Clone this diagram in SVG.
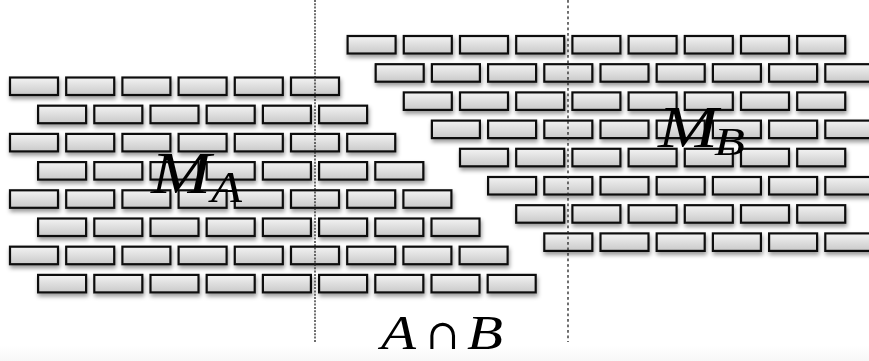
<svg xmlns="http://www.w3.org/2000/svg" xmlns:xlink="http://www.w3.org/1999/xlink" width="869" height="361" viewBox="0 0 869 361">
<style>
.brick{fill:url(#bg);stroke:#111;stroke-width:2.2}
.math{font-family:"Liberation Serif","DejaVu Serif",serif;font-style:italic;fill:#000}
.op{font-family:"DejaVu Serif","Liberation Serif",serif;fill:#000}
.cut{stroke:#222;stroke-width:1.3;fill:none}
</style>
<defs>
<linearGradient id="bg" x1="0" y1="0" x2="0" y2="1">
<stop offset="0" stop-color="#f3f3f3"/>
<stop offset="1" stop-color="#c9c9c9"/>
</linearGradient>
<linearGradient id="fl" x1="0" y1="0" x2="0" y2="1">
<stop offset="0" stop-color="#ffffff"/>
<stop offset="1" stop-color="#f7f7f7"/>
</linearGradient>
<filter id="sh" x="-5%" y="-10%" width="110%" height="125%">
<feDropShadow dx="1" dy="3" stdDeviation="2" flood-color="#000" flood-opacity="0.4"/>
</filter>
<rect id="b" class="brick" x="1" y="1" width="48" height="17.5"/>
</defs>
<rect x="0" y="0" width="869" height="361" fill="#fff"/>
<rect x="0" y="346" width="869" height="15" fill="url(#fl)"/>

<g id="wall-a" filter="url(#sh)">
<use href="#b" x="9" y="76.5"/><use href="#b" x="65.2" y="76.5"/><use href="#b" x="121.4" y="76.5"/><use href="#b" x="177.6" y="76.5"/><use href="#b" x="233.8" y="76.5"/><use href="#b" x="290" y="76.5"/>
<use href="#b" x="37.1" y="104.7"/><use href="#b" x="93.3" y="104.7"/><use href="#b" x="149.5" y="104.7"/><use href="#b" x="205.7" y="104.7"/><use href="#b" x="261.9" y="104.7"/><use href="#b" x="318.1" y="104.7"/>
<use href="#b" x="9" y="132.9"/><use href="#b" x="65.2" y="132.9"/><use href="#b" x="121.4" y="132.9"/><use href="#b" x="177.6" y="132.9"/><use href="#b" x="233.8" y="132.9"/><use href="#b" x="290" y="132.9"/><use href="#b" x="346.2" y="132.9"/>
<use href="#b" x="37.1" y="161.1"/><use href="#b" x="93.3" y="161.1"/><use href="#b" x="149.5" y="161.1"/><use href="#b" x="205.7" y="161.1"/><use href="#b" x="261.9" y="161.1"/><use href="#b" x="318.1" y="161.1"/><use href="#b" x="374.3" y="161.1"/>
<use href="#b" x="9" y="189.3"/><use href="#b" x="65.2" y="189.3"/><use href="#b" x="121.4" y="189.3"/><use href="#b" x="177.6" y="189.3"/><use href="#b" x="233.8" y="189.3"/><use href="#b" x="290" y="189.3"/><use href="#b" x="346.2" y="189.3"/><use href="#b" x="402.4" y="189.3"/>
<use href="#b" x="37.1" y="217.5"/><use href="#b" x="93.3" y="217.5"/><use href="#b" x="149.5" y="217.5"/><use href="#b" x="205.7" y="217.5"/><use href="#b" x="261.9" y="217.5"/><use href="#b" x="318.1" y="217.5"/><use href="#b" x="374.3" y="217.5"/><use href="#b" x="430.5" y="217.5"/>
<use href="#b" x="9" y="245.7"/><use href="#b" x="65.2" y="245.7"/><use href="#b" x="121.4" y="245.7"/><use href="#b" x="177.6" y="245.7"/><use href="#b" x="233.8" y="245.7"/><use href="#b" x="290" y="245.7"/><use href="#b" x="346.2" y="245.7"/><use href="#b" x="402.4" y="245.7"/><use href="#b" x="458.6" y="245.7"/>
<use href="#b" x="37.1" y="273.9"/><use href="#b" x="93.3" y="273.9"/><use href="#b" x="149.5" y="273.9"/><use href="#b" x="205.7" y="273.9"/><use href="#b" x="261.9" y="273.9"/><use href="#b" x="318.1" y="273.9"/><use href="#b" x="374.3" y="273.9"/><use href="#b" x="430.5" y="273.9"/><use href="#b" x="486.7" y="273.9"/>
</g>

<g id="wall-b" filter="url(#sh)">
<use href="#b" x="346.6" y="35"/><use href="#b" x="402.8" y="35"/><use href="#b" x="459" y="35"/><use href="#b" x="515.2" y="35"/><use href="#b" x="571.4" y="35"/><use href="#b" x="627.6" y="35"/><use href="#b" x="683.8" y="35"/><use href="#b" x="740" y="35"/><use href="#b" x="796.2" y="35"/>
<use href="#b" x="374.7" y="63.2"/><use href="#b" x="430.9" y="63.2"/><use href="#b" x="487.1" y="63.2"/><use href="#b" x="543.3" y="63.2"/><use href="#b" x="599.5" y="63.2"/><use href="#b" x="655.7" y="63.2"/><use href="#b" x="711.9" y="63.2"/><use href="#b" x="768.1" y="63.2"/><use href="#b" x="824.3" y="63.2"/>
<use href="#b" x="402.8" y="91.4"/><use href="#b" x="459" y="91.4"/><use href="#b" x="515.2" y="91.4"/><use href="#b" x="571.4" y="91.4"/><use href="#b" x="627.6" y="91.4"/><use href="#b" x="683.8" y="91.4"/><use href="#b" x="740" y="91.4"/><use href="#b" x="796.2" y="91.4"/>
<use href="#b" x="430.9" y="119.6"/><use href="#b" x="487.1" y="119.6"/><use href="#b" x="543.3" y="119.6"/><use href="#b" x="599.5" y="119.6"/><use href="#b" x="655.7" y="119.6"/><use href="#b" x="711.9" y="119.6"/><use href="#b" x="768.1" y="119.6"/><use href="#b" x="824.3" y="119.6"/>
<use href="#b" x="459" y="147.8"/><use href="#b" x="515.2" y="147.8"/><use href="#b" x="571.4" y="147.8"/><use href="#b" x="627.6" y="147.8"/><use href="#b" x="683.8" y="147.8"/><use href="#b" x="740" y="147.8"/><use href="#b" x="796.2" y="147.8"/>
<use href="#b" x="487.1" y="176"/><use href="#b" x="543.3" y="176"/><use href="#b" x="599.5" y="176"/><use href="#b" x="655.7" y="176"/><use href="#b" x="711.9" y="176"/><use href="#b" x="768.1" y="176"/><use href="#b" x="824.3" y="176"/>
<use href="#b" x="515.2" y="204.2"/><use href="#b" x="571.4" y="204.2"/><use href="#b" x="627.6" y="204.2"/><use href="#b" x="683.8" y="204.2"/><use href="#b" x="740" y="204.2"/><use href="#b" x="796.2" y="204.2"/>
<use href="#b" x="543.3" y="232.4"/><use href="#b" x="599.5" y="232.4"/><use href="#b" x="655.7" y="232.4"/><use href="#b" x="711.9" y="232.4"/><use href="#b" x="768.1" y="232.4"/><use href="#b" x="824.3" y="232.4"/>
</g>

<g id="cuts">
<line class="cut" x1="315" y1="0" x2="315" y2="342" stroke-dasharray="2 1.3"/>
<line class="cut" x1="568" y1="0" x2="568" y2="342" stroke-dasharray="2.7 2.8"/>
</g>

<g id="label-ma">
<text class="math" x="151" y="192.5" font-size="60" textLength="60" lengthAdjust="spacingAndGlyphs">M</text>
<text class="math" x="211" y="201.5" font-size="44" textLength="31" lengthAdjust="spacingAndGlyphs">A</text>
</g>
<g id="label-mb">
<text class="math" x="658" y="147" font-size="60" textLength="60" lengthAdjust="spacingAndGlyphs">M</text>
<text class="math" x="714" y="155" font-size="41" textLength="31" lengthAdjust="spacingAndGlyphs">B</text>
</g>
<g id="label-ab">
<text class="math" x="381" y="349" font-size="48" textLength="35" lengthAdjust="spacingAndGlyphs">A</text>
<text class="op" x="426" y="349" font-size="42" textLength="33" lengthAdjust="spacingAndGlyphs">∩</text>
<text class="math" x="467" y="349" font-size="48" textLength="36" lengthAdjust="spacingAndGlyphs">B</text>
</g>
</svg>
